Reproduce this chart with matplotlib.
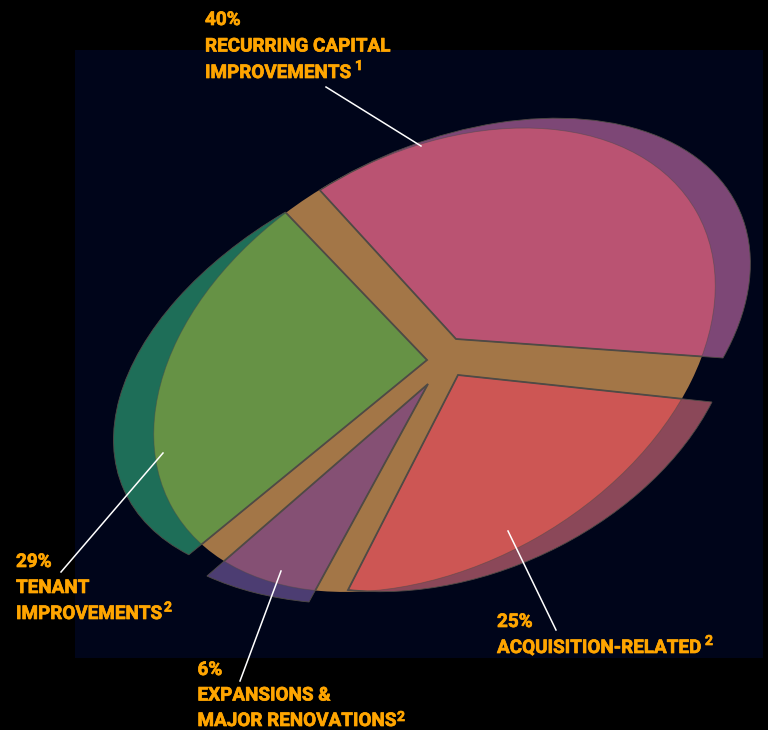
import numpy as np
import matplotlib
matplotlib.use('Agg')
import matplotlib.pyplot as plt
import matplotlib.patheffects as pe
from matplotlib.patches import Ellipse, Wedge, Rectangle
from matplotlib.transforms import Affine2D

categories = ['RECURRING CAPITAL\nIMPROVEMENTS', 'TENANT\nIMPROVEMENTS',
              'EXPANSIONS &\nMAJOR RENOVATIONS', 'ACQUISITION-RELATED']
values = [40, 29, 6, 25]
notes = ['1', '2', '2', '2']

front_colors = ['#ba5372', '#669245', '#855074', '#cd5654']
back_colors = ['#7d4776', '#1e6e58', '#4c3d72', '#8b4859']
disc_color = '#a37647'
edge_color = '#4f4a45'
text_color = '#ffa500'

# wedge tips in pixels and how each unit wedge is squashed
tips = [(456, 339), (427, 360), (428, 384), (458, 375)]
squash = [(267, 19, 124, -220), (279, 23, 143, -220),
          (300, 29, 119, -218), (254, 27, 110, -215)]
end_adj = [-1.5, -0.7, 0, 0]

# label x, first baseline, superscript x and y, leader line
label_pos = [(205, 25), (16, 567), (197.5, 675), (497, 627)]
note_pos = [(355, 70), (164, 611.5), (397, 721), (705, 645)]
leaders = [((326, 87), (421, 146)), ((61, 572), (163, 453)),
           ((240, 681), (281, 571)), ((556, 630), (508, 531))]
line_step = [26.5, 26, 25.5, 26]

font = 'Roboto'
heavy = [pe.withStroke(linewidth=0.5, foreground=text_color)]

fig = plt.figure(figsize=(7.68, 7.30), dpi=100, facecolor='black')
ax = fig.add_axes([0, 0, 1, 1])
ax.set_xlim(0, 768)
ax.set_ylim(730, 0)
ax.axis('off')

ax.add_patch(Rectangle((75, 50), 688, 607.5, fc='#00051a', ec='none'))

disc = Ellipse((434.5, 360), 602, 410, angle=-29.5, fc=disc_color, ec='none')
ax.add_patch(disc)

# unit pie squashed into the tilted ellipse
edges = np.cumsum([0] + values) * 3.6
for i in range(len(values)):
    t1 = edges[i]
    t2 = edges[i + 1] + end_adj[i]
    m = squash[i]
    tr = Affine2D.from_values(m[0], m[1], m[2], m[3], tips[i][0], tips[i][1]) + ax.transData

    back = Wedge((0, 0), 1, t1, t2, fc=back_colors[i], ec='none')
    back.set_transform(tr)
    ax.add_patch(back)

    front = Wedge((0, 0), 1, t1, t2, fc=front_colors[i], ec='none')
    front.set_transform(tr)
    ax.add_patch(front)
    front.set_clip_path(disc)

    rim = Ellipse((434.5, 360), 602, 410, angle=-29.5, fc='none', ec=edge_color, lw=0.6, alpha=0.5)
    ax.add_patch(rim)
    rim.set_clip_path(back)

    thin = Wedge((0, 0), 1, t1, t2, fc='none', ec=edge_color, lw=0.6)
    thin.set_transform(tr)
    ax.add_patch(thin)

    # straight edges read heavier over the disc
    outline = Wedge((0, 0), 1, t1, t2, fc='none', ec=edge_color, lw=1.3)
    outline.set_transform(tr)
    ax.add_patch(outline)
    outline.set_clip_path(disc)

for a, b in leaders:
    ax.plot([a[0], b[0]], [a[1], b[1]], color='white', lw=1.1)

for i in range(len(values)):
    x, y = label_pos[i]
    lines = ['%d%%' % values[i]] + categories[i].split('\n')
    for j, line in enumerate(lines):
        ax.text(x, y + j * line_step[i], line, color=text_color, family=font,
                weight='bold', fontsize=13.6, va='baseline', ha='left', path_effects=heavy)
    ax.text(note_pos[i][0], note_pos[i][1], notes[i], color=text_color, family=font,
            weight='bold', fontsize=10, va='baseline', ha='left', path_effects=heavy)

fig.savefig('out.png', dpi=100, facecolor='black')
